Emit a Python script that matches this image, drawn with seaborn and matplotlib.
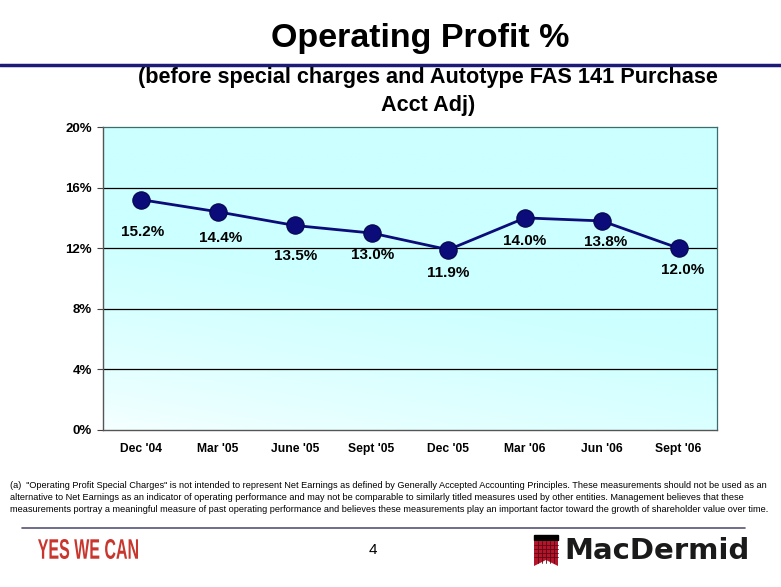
import numpy as np
import pandas as pd
import matplotlib
matplotlib.use("Agg")
import matplotlib.pyplot as plt
from matplotlib.patches import Rectangle, Polygon, PathPatch
from matplotlib.lines import Line2D
from matplotlib.textpath import TextPath
from matplotlib.font_manager import FontProperties
from matplotlib.transforms import Affine2D, IdentityTransform
import seaborn as sns

# === DATA ===
periods = ["Dec '04", "Mar '05", "June '05", "Sept '05", "Dec '05", "Mar '06", "Jun '06", "Sept '06"]
op_profit = [15.2, 14.4, 13.5, 13.0, 11.9, 14.0, 13.8, 12.0]
label_texts = ["15.2%", "14.4%", "13.5%", "13.0%", "11.9%", "14.0%", "13.8%", "12.0%"]
label_dy = [32, 26, 31, 22, 23, 23, 21, 22]  # label offset below marker, px
label_dx = [1, 2, 1, 1, 0, 0, 4, 4]
y_ticks = [0, 4, 8, 12, 16, 20]

W, H = 781, 587
NAVY = "#0b0b7a"

sns.set_style("white")
plt.rcParams["font.family"] = ["Liberation Sans", "DejaVu Sans"]
plt.rcParams["text.color"] = "black"
plt.rcParams["xtick.color"] = "black"
plt.rcParams["ytick.color"] = "black"

def fx(x):
    return x / W

def fy(y):
    return 1 - y / H

fig = plt.figure(figsize=(W / 100, H / 100), dpi=100)
fig.patch.set_facecolor("white")

ax = fig.add_axes([fx(103), fy(430), (717 - 103) / W, (430 - 127) / H])

# gradient background (white lower-left -> cyan upper-right)
u, v = np.meshgrid(np.linspace(0, 1, 200), np.linspace(0, 1, 200))
s = np.clip(0.55 * u + 1.5 * v, 0, 1) ** 0.7
white = np.array([0.97, 1.0, 1.0])
cyan = np.array([0.80, 1.0, 1.0])
img = white[None, None, :] * (1 - s[..., None]) + cyan[None, None, :] * s[..., None]
ax.imshow(img, origin="lower", extent=[0, 1, 0, 1], transform=ax.transAxes,
          aspect="auto", zorder=0)

for t in y_ticks[1:-1]:
    ax.axhline(t, color="black", lw=0.9, zorder=1)

df = pd.DataFrame({"period": periods, "value": op_profit})
sns.lineplot(data=df, x="period", y="value", sort=False, ax=ax, color=NAVY,
             lw=2.0, marker="o", markersize=12.5, markerfacecolor=NAVY,
             markeredgecolor="#06064f", markeredgewidth=0.8, zorder=3)

for i, (val, txt) in enumerate(zip(op_profit, label_texts)):
    ax.annotate(txt, (i, val), xytext=(label_dx[i], -label_dy[i]),
                textcoords="offset pixels", ha="center", va="center",
                fontsize=11, fontweight="bold", color="black", zorder=4)

ax.set_xlim(-0.5, len(periods) - 0.5)
ax.set_ylim(0, 20)
ax.set_yticks(y_ticks)
ax.set_yticklabels([f"{t}%" for t in y_ticks], fontsize=9.5, fontweight="bold")
ax.set_xticks(range(len(periods)))
ax.set_xticklabels(periods, fontsize=8.7, fontweight="bold")
for lbl in ax.get_xticklabels():
    lbl.set_verticalalignment("baseline")
ax.set_xticks(np.arange(-0.5, len(periods)), minor=True)
ax.tick_params(axis="x", which="major", length=0, pad=16)
ax.tick_params(axis="x", which="minor", length=4, direction="out", color="#444444")
ax.tick_params(axis="y", length=4, direction="out", color="#444444", pad=4, left=True)
ax.set_xlabel("")
ax.set_ylabel("")
for side in ["top", "right"]:
    ax.spines[side].set_color("#3a6e6e")
    ax.spines[side].set_linewidth(0.9)
for side in ["left", "bottom"]:
    ax.spines[side].set_color("#555555")
    ax.spines[side].set_linewidth(1.0)

# === titles ===
fig.text(fx(420), fy(38), "Operating Profit %", ha="center", va="center",
         fontsize=24.5, fontweight="bold")
fig.add_artist(Line2D([0, 1], [fy(65), fy(65)], color="#1c1c78", lw=2.5))
fig.text(fx(428), fy(78), "(before special charges and Autotype FAS 141 Purchase",
         ha="center", va="center", fontsize=15.6, fontweight="bold")
fig.text(fx(428), fy(105), "Acct Adj)", ha="center", va="center",
         fontsize=15.6, fontweight="bold")

# === footnote ===
foot = [
    "(a)  \"Operating Profit Special Charges\" is not intended to represent Net Earnings as defined by Generally Accepted Accounting Principles. These measurements should not be used as an",
    "alternative to Net Earnings as an indicator of operating performance and may not be comparable to similarly titled measures used by other entities. Management believes that these",
    "measurements portray a meaningful measure of past operating performance and believes these measurements play an important factor toward the growth of shareholder value over time.",
]
for k, line in enumerate(foot):
    fig.text(fx(10), fy(485 + 12 * k), line, ha="left", va="center", fontsize=6.55)

fig.add_artist(Line2D([fx(22), fx(745)], [fy(528), fy(528)], color="#555577", lw=1.2))

# "YES WE CAN" condensed: squeeze a text path into a 100x20 px box
tp = TextPath((0, 0), "YES WE CAN", size=21,
              prop=FontProperties(family="Liberation Sans", weight="bold"))
bb = tp.get_extents()
tr = Affine2D().translate(-bb.x0, -bb.y0).scale(100 / bb.width, 20 / bb.height).translate(38, H - 559)
fig.add_artist(PathPatch(tr.transform_path(tp), facecolor="#c8362e", edgecolor="none",
                         transform=IdentityTransform()))

fig.text(fx(373), fy(550), "4", ha="center", va="center", fontsize=11)

# logo: plaid banner + name
fig.add_artist(Rectangle((fx(534), fy(540)), (558 - 534) / W, 5 / H, color="black"))
fig.add_artist(Polygon([(fx(534), fy(541)), (fx(558), fy(541)), (fx(558), fy(566)),
                        (fx(546), fy(560)), (fx(534), fy(566))], closed=True,
                       facecolor="#b5152b", edgecolor="none"))
for xx in [538, 542, 546, 550, 554]:
    fig.add_artist(Line2D([fx(xx), fx(xx)], [fy(541), fy(563)], color="#5a0a14", lw=0.6))
for yy in [545, 549, 553, 557]:
    fig.add_artist(Line2D([fx(534), fx(558)], [fy(yy), fy(yy)], color="#5a0a14", lw=0.6))
fig.text(fx(564), fy(551), "MacDermid", ha="left", va="center", fontsize=21,
         fontweight="bold", color="#1a1a1a", family=["DejaVu Sans"])

fig.savefig("out.png", dpi=100, facecolor="white")
